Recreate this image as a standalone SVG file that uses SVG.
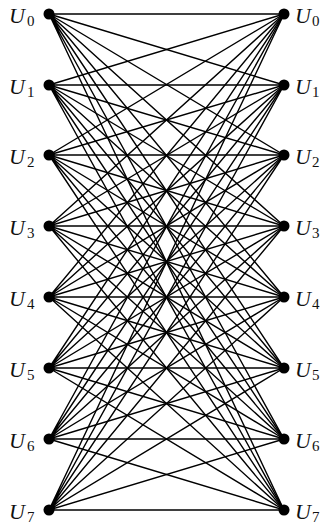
<svg xmlns="http://www.w3.org/2000/svg" width="322" height="524" viewBox="0 0 322 524">
<style>
.e{stroke:#000;stroke-width:1.4;fill:none}
.d{fill:#000}
.u{font-family:"Liberation Serif","Times New Roman",serif;font-style:italic;font-size:22px;fill:#111}
.s{font-family:"Liberation Serif","Times New Roman",serif;font-size:15px;fill:#111}
</style>
<rect width="322" height="524" fill="#fff"/>
<g id="edges" class="e">
<path d="M49 14L284 14M49 14L284 85M49 14L284 155M49 14L284 226M49 14L284 297M49 14L284 368M49 14L284 439M49 14L284 510"/>
<path d="M49 85L284 14M49 85L284 85M49 85L284 155M49 85L284 226M49 85L284 297M49 85L284 368M49 85L284 439M49 85L284 510"/>
<path d="M49 155L284 14M49 155L284 85M49 155L284 155M49 155L284 226M49 155L284 297M49 155L284 368M49 155L284 439M49 155L284 510"/>
<path d="M49 226L284 14M49 226L284 85M49 226L284 155M49 226L284 226M49 226L284 297M49 226L284 368M49 226L284 439M49 226L284 510"/>
<path d="M49 297L284 14M49 297L284 85M49 297L284 155M49 297L284 226M49 297L284 297M49 297L284 368M49 297L284 439M49 297L284 510"/>
<path d="M49 368L284 14M49 368L284 85M49 368L284 155M49 368L284 226M49 368L284 297M49 368L284 368M49 368L284 439M49 368L284 510"/>
<path d="M49 439L284 14M49 439L284 85M49 439L284 155M49 439L284 226M49 439L284 297M49 439L284 368M49 439L284 439M49 439L284 510"/>
<path d="M49 510L284 14M49 510L284 85M49 510L284 155M49 510L284 226M49 510L284 297M49 510L284 368M49 510L284 439M49 510L284 510"/>
</g>
<g id="L0"><circle class="d" cx="49" cy="14" r="5.5"/><text class="u" x="9" y="23">U</text><text class="s" x="27" y="26">0</text></g>
<g id="L1"><circle class="d" cx="49" cy="85" r="5.5"/><text class="u" x="9" y="94">U</text><text class="s" x="27" y="97">1</text></g>
<g id="L2"><circle class="d" cx="49" cy="155" r="5.5"/><text class="u" x="9" y="164">U</text><text class="s" x="27" y="167">2</text></g>
<g id="L3"><circle class="d" cx="49" cy="226" r="5.5"/><text class="u" x="9" y="235">U</text><text class="s" x="27" y="238">3</text></g>
<g id="L4"><circle class="d" cx="49" cy="297" r="5.5"/><text class="u" x="9" y="306">U</text><text class="s" x="27" y="309">4</text></g>
<g id="L5"><circle class="d" cx="49" cy="368" r="5.5"/><text class="u" x="9" y="377">U</text><text class="s" x="27" y="380">5</text></g>
<g id="L6"><circle class="d" cx="49" cy="439" r="5.5"/><text class="u" x="9" y="448">U</text><text class="s" x="27" y="451">6</text></g>
<g id="L7"><circle class="d" cx="49" cy="510" r="5.5"/><text class="u" x="9" y="519">U</text><text class="s" x="27" y="522">7</text></g>
<g id="R0"><circle class="d" cx="284" cy="14" r="5.5"/><text class="u" x="295" y="23">U</text><text class="s" x="312" y="26">0</text></g>
<g id="R1"><circle class="d" cx="284" cy="85" r="5.5"/><text class="u" x="295" y="94">U</text><text class="s" x="312" y="97">1</text></g>
<g id="R2"><circle class="d" cx="284" cy="155" r="5.5"/><text class="u" x="295" y="164">U</text><text class="s" x="312" y="167">2</text></g>
<g id="R3"><circle class="d" cx="284" cy="226" r="5.5"/><text class="u" x="295" y="235">U</text><text class="s" x="312" y="238">3</text></g>
<g id="R4"><circle class="d" cx="284" cy="297" r="5.5"/><text class="u" x="295" y="306">U</text><text class="s" x="312" y="309">4</text></g>
<g id="R5"><circle class="d" cx="284" cy="368" r="5.5"/><text class="u" x="295" y="377">U</text><text class="s" x="312" y="380">5</text></g>
<g id="R6"><circle class="d" cx="284" cy="439" r="5.5"/><text class="u" x="295" y="448">U</text><text class="s" x="312" y="451">6</text></g>
<g id="R7"><circle class="d" cx="284" cy="510" r="5.5"/><text class="u" x="295" y="519">U</text><text class="s" x="312" y="522">7</text></g>
</svg>
